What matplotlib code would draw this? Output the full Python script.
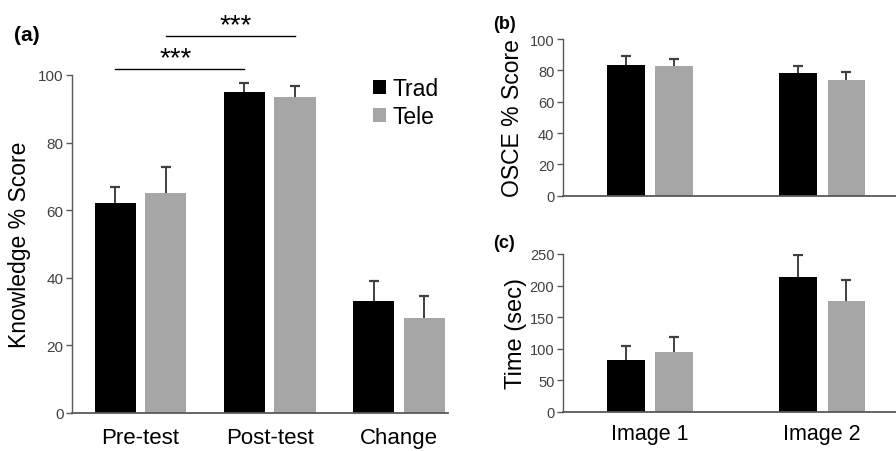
import numpy as np
import matplotlib
matplotlib.use('Agg')
import matplotlib.pyplot as plt

plt.rcParams['font.family'] = ['Liberation Sans', 'DejaVu Sans']

# panel (a) knowledge scores
know_groups = ['Pre-test', 'Post-test', 'Change']
know_trad = [62, 95, 33]
know_trad_err = [4.8, 2.5, 6]
know_tele = [65.2, 93.4, 28]
know_tele_err = [7.5, 3.2, 6.7]

# panel (b) OSCE scores
img_groups = ['Image 1', 'Image 2']
osce_trad = [83.4, 78]
osce_trad_err = [5.5, 5]
osce_tele = [82.5, 74]
osce_tele_err = [5, 5]

# panel (c) time
time_trad = [82, 214]
time_trad_err = [22, 35]
time_tele = [95, 175]
time_tele_err = [24, 33]

BLACK = '#000000'
GRAY = '#a6a6a6'
ERR = '#404040'
SPINE = '#595959'
TICK = '#404040'


def style_axis(ax, tick_size, xpad=8):
    for s in ['top', 'right']:
        ax.spines[s].set_visible(False)
    ax.spines['left'].set_color(SPINE)
    ax.spines['bottom'].set_color(SPINE)
    ax.spines['left'].set_linewidth(1.0)
    ax.spines['bottom'].set_linewidth(1.3)
    ax.tick_params(axis='y', length=4, width=1, color=SPINE, labelsize=tick_size,
                   labelcolor=TICK, pad=2)
    ax.tick_params(axis='x', length=0, colors='black', pad=xpad)


def plus_err(ax, xs, ys, errs):
    # Excel style "plus" error bars: only the upper whisker and cap
    xs = np.asarray(xs)
    top = np.asarray(ys) + np.asarray(errs)
    ax.vlines(xs, ys, top, color=ERR, lw=1.4, zorder=3)
    ax.plot(xs, top, ls='none', marker='_', ms=7, mew=1.6, color=ERR, zorder=3)


def bar_pair(ax, x, a, a_err, b, b_err, width, offset):
    ax.bar(x - offset, a, width, color=BLACK, label='Trad')
    ax.bar(x + offset, b, width, color=GRAY, label='Tele')
    plus_err(ax, x - offset, a, a_err)
    plus_err(ax, x + offset, b, b_err)


fig = plt.figure(figsize=(8.96, 4.52), dpi=100)

# (a)
ax1 = fig.add_axes([0.0804, 0.0841, 0.4196, 0.7478])
x1 = np.arange(len(know_groups))
bar_pair(ax1, x1, know_trad, know_trad_err, know_tele, know_tele_err, 0.318, 0.196)
ax1.set_xlim(-0.53, 2.38)
ax1.set_ylim(0, 100)
ax1.set_yticks(range(0, 101, 20))
ax1.set_xticks(x1)
ax1.set_xticklabels(know_groups, fontsize=16)
ax1.set_ylabel('Knowledge % Score', fontsize=16.5, labelpad=5)
style_axis(ax1, 11, xpad=10)
ax1.legend(loc='upper right', bbox_to_anchor=(1.0, 1.02), frameon=False, fontsize=16.5,
           handlelength=0.55, handleheight=0.55, handletextpad=0.3, labelspacing=0.2,
           borderaxespad=0.0)

# significance bars
ax1.plot([x1[0] - 0.196, x1[1] - 0.196], [101.7, 101.7], color='black', lw=1, clip_on=False)
ax1.text(0.27, 102.8, '***', ha='center', va='baseline', fontsize=20, clip_on=False)
ax1.plot([x1[0] + 0.196, x1[1] + 0.196], [111.5, 111.5], color='black', lw=1, clip_on=False)
ax1.text(0.74, 112.6, '***', ha='center', va='baseline', fontsize=20, clip_on=False)
fig.text(0.016, 0.922, '(a)', fontsize=15, fontweight='bold', va='center')

# (b)
ax2 = fig.add_axes([0.628, 0.5648, 0.3717, 0.3467])
x2 = np.arange(len(img_groups))
bar_pair(ax2, x2, osce_trad, osce_trad_err, osce_tele, osce_tele_err, 0.22, 0.141)
ax2.set_xlim(-0.506, 1.427)
ax2.set_ylim(0, 100)
ax2.set_yticks(range(0, 101, 20))
ax2.set_xticks([])
ax2.set_ylabel('OSCE % Score', fontsize=16.5, labelpad=4)
style_axis(ax2, 10.5)
fig.text(0.55, 0.945, '(b)', fontsize=13, fontweight='bold', va='center')

# (c)
ax3 = fig.add_axes([0.628, 0.0869, 0.3717, 0.349])
bar_pair(ax3, x2, time_trad, time_trad_err, time_tele, time_tele_err, 0.22, 0.141)
ax3.set_xlim(-0.506, 1.427)
ax3.set_ylim(0, 250)
ax3.set_yticks(range(0, 251, 50))
ax3.set_xticks(x2)
ax3.set_xticklabels(img_groups, fontsize=15.5)
ax3.set_ylabel('Time (sec)', fontsize=17, labelpad=2)
style_axis(ax3, 10.5)
fig.text(0.55, 0.462, '(c)', fontsize=13, fontweight='bold', va='center')

fig.savefig('out.png', dpi=100)
